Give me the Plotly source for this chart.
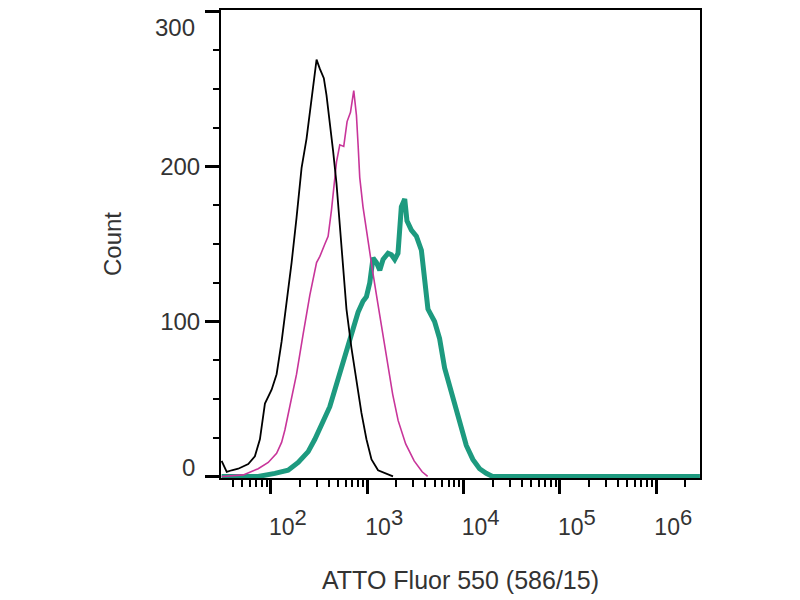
import plotly.graph_objects as go

# Histogram traces (fluorescence intensity vs count)
black_x = [30.8, 34.8, 39.2, 45.8, 58.2, 68.2, 76.9, 86.7, 101.7, 114.6, 129.1, 151.0, 164.0, 184.6,
           208.0, 234.4, 253.6, 279.0, 297.8, 322.3, 354.3, 377.6, 408.5, 442.4, 479.7, 540.6,
           608.5, 685.5, 772.5, 870.4, 981.3, 1107, 1295, 1644, 1850]
black_y = [10, 3, 4, 5, 8, 13, 24, 47, 56, 66, 87, 119, 138, 167, 199, 218, 235, 256, 269, 263,
           257, 246, 229, 210, 189, 146, 108, 83, 62, 41, 24, 11, 4, 1, 0]

magenta_x = [30.8, 51.7, 73.8, 93.8, 114.6, 129.1, 139.7, 157.4, 184.6, 216.3, 253.6, 297.8, 322.3,
             363.1, 392.6, 425.6, 479.7, 518.8, 570.2, 617.6, 669.9, 724.4, 772.5, 803.5, 835.6,
             903.6, 1000, 1127, 1270, 1449, 1629, 1837, 2094, 2506, 3069, 3715, 4236]
magenta_y = [0, 1, 5, 9, 15, 22, 30, 45, 66, 92, 117, 138, 142, 150, 155, 172, 203, 214, 213, 229,
             235, 249, 233, 214, 193, 174, 155, 134, 114, 92, 72, 53, 36, 21, 10, 3, 0]

teal_x = [30.8, 73.8, 110.0, 151.0, 191.9, 243.8, 285.8, 322.3, 363.1, 408.5, 479.7, 584.8, 712.9,
          803.5, 903.6, 981.3, 1062, 1149, 1245, 1349, 1459, 1644, 1782, 1928, 2085, 2259, 2449,
          2584, 2871, 3236, 3648, 3945, 4266, 5000, 5636, 6353, 7161, 8395, 9462, 10670, 12480,
          14660, 17180, 20000, 2840000]
teal_y = [0, 0, 2, 4, 9, 16, 24, 32, 38, 45, 60, 79, 96, 106, 113, 116, 125, 141, 138, 133,
          140, 144, 143, 140, 144, 174, 179, 165, 159, 155, 146, 130, 108, 100, 89, 70, 58, 45,
          32, 20, 11, 5, 2, 0, 0]

x_tick_vals = [1e2, 1e3, 1e4, 1e5, 1e6]
x_tick_exp = ["2", "3", "4", "5", "6"]
y_tick_vals = [0, 100, 200, 300]
y_tick_text = ["0", "100", "200", "300"]

FONT = "Liberation Sans, Arial, sans-serif"
TXT = "#333333"

x_tick_text = ["10<sup><span style='font-size:22px'>%s</span></sup>" % e for e in x_tick_exp]

fig = go.Figure()
fig.add_trace(go.Scatter(x=teal_x, y=teal_y, mode="lines",
                         line=dict(color="#1d9a7f", width=5), showlegend=False))
fig.add_trace(go.Scatter(x=magenta_x, y=magenta_y, mode="lines",
                         line=dict(color="#c8359a", width=1.6), showlegend=False))
fig.add_trace(go.Scatter(x=black_x, y=black_y, mode="lines",
                         line=dict(color="#000000", width=1.8), showlegend=False))

# edge labels (0 and 300) sit inside the range like in the original, so they are annotations
edge_shift = {0: 9, 300: -16}
y_axis_text = [t if v not in edge_shift else "" for v, t in zip(y_tick_vals, y_tick_text)]
for v, t in zip(y_tick_vals, y_tick_text):
    if v in edge_shift:
        fig.add_annotation(x=0, xref="paper", xanchor="right", xshift=-24,
                           y=v, yref="y", yshift=edge_shift[v], text=t, showarrow=False,
                           font=dict(family=FONT, size=24, color=TXT))

# page body adds 8px offset, so margins are trimmed by that much
fig.update_layout(
    width=800, height=600,
    margin=dict(l=213, r=108, t=2, b=130),
    paper_bgcolor="white", plot_bgcolor="white",
    showlegend=False,
    xaxis=dict(
        type="log", range=[1.482, 6.454], automargin=False,
        tickmode="array", tickvals=x_tick_vals, ticktext=x_tick_text,
        ticks="outside", ticklen=14, tickwidth=3, tickcolor="black",
        showline=True, linewidth=2, linecolor="black", mirror=True,
        showgrid=False, zeroline=False,
        ticklabelstandoff=13, ticklabelshift=17,
        tickfont=dict(family=FONT, size=23, color=TXT),
        minor=dict(ticks="outside", ticklen=7, tickwidth=2, tickcolor="black",
                   dtick="D1", showgrid=False),
        title=dict(text="ATTO Fluor 550 (586/15)", standoff=33,
                   font=dict(family=FONT, size=25, color=TXT)),
    ),
    yaxis=dict(
        range=[-1, 301], automargin=False,
        tickmode="array", tickvals=y_tick_vals, ticktext=y_axis_text,
        ticks="outside", ticklen=14, tickwidth=3, tickcolor="black",
        showline=True, linewidth=2, linecolor="black", mirror=True,
        showgrid=False, zeroline=False,
        tickfont=dict(family=FONT, size=24, color=TXT),
        minor=dict(ticks="outside", ticklen=6, tickwidth=2, tickcolor="black",
                   dtick=25, showgrid=False),
        title=dict(text="Count", standoff=32,
                   font=dict(family=FONT, size=24, color=TXT)),
    ),
)

fig.write_html("out.html")
